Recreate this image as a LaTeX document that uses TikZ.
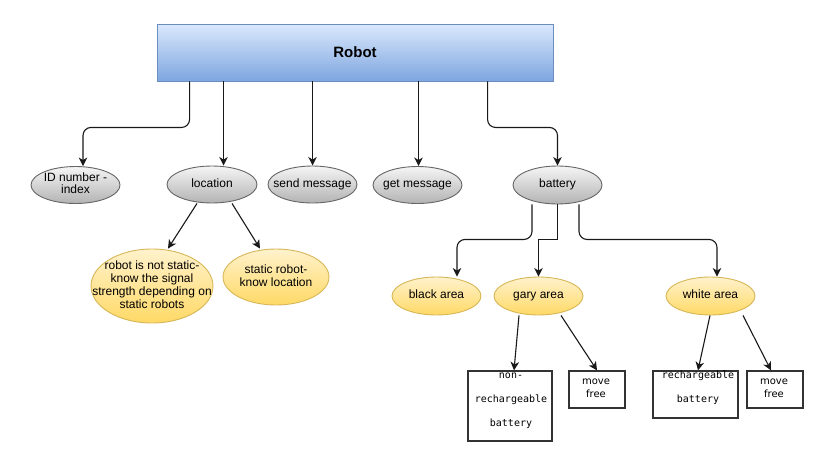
\documentclass[tikz,border=0pt]{standalone}
\usepackage{fontspec}
\setmainfont{Liberation Sans}
\newfontfamily\monof{DejaVu Sans Mono}
\newfontfamily\dvsf{DejaVu Sans}
\usetikzlibrary{arrows.meta,shapes.geometric,positioning}
\definecolor{blueTop}{HTML}{DAE8FC}
\definecolor{blueBot}{HTML}{7EA6E0}
\definecolor{blueLine}{HTML}{6C8EBF}
\definecolor{grayTop}{HTML}{F5F5F5}
\definecolor{grayBot}{HTML}{B3B3B3}
\definecolor{grayLine}{HTML}{666666}
\definecolor{yelTop}{HTML}{FFF2CC}
\definecolor{yelBot}{HTML}{FFD966}
\definecolor{yelLine}{HTML}{D6B656}
\definecolor{boxLine}{HTML}{333333}
\newcommand{\ctext}[1]{\makebox[0pt]{\begin{tabular}{@{}c@{}}#1\end{tabular}}}
\tikzset{
  rootbox/.style={rectangle, draw=blueLine, line width=0.9pt, top color=blueTop, bottom color=blueBot,
    minimum width=396pt, minimum height=57pt, inner sep=0pt, font=\fontsize{15}{18}\selectfont\bfseries},
  grayell/.style={ellipse, draw=grayLine, line width=0.9pt, top color=grayTop, bottom color=grayBot,
    minimum width=89pt, minimum height=37pt, inner sep=0pt,
    font=\fontsize{12}{12}\selectfont},
  yelell/.style={ellipse, draw=yelLine, line width=0.9pt, top color=yelTop, bottom color=yelBot,
    minimum width=89pt, minimum height=38pt, inner sep=0pt,
    font=\fontsize{12}{13}\selectfont},
  leafbox/.style={rectangle, draw=boxLine, line width=1.3pt, fill=white, inner sep=0pt},
  monotext/.style={align=center, inner sep=0pt, font=\monof\fontsize{10}{24}\selectfont},
  sanstext/.style={align=center, inner sep=0pt, font=\dvsf\fontsize{10}{13}\selectfont},
  arr/.style={draw=black!90, line width=1.1pt, -{Stealth[length=8.5pt,width=8.5pt,inset=2.5pt]}},
}
\begin{document}
\begin{tikzpicture}[x=1pt,y=-1pt]
\useasboundingbox (0,0) rectangle (830,464);
% root
\node[rootbox] (robot) at (355,52.5) {Robot};
% level 1
\node[grayell] (id) at (75.5,185) {\ctext{ID number -\\index}};
\node[grayell, minimum width=90pt] (loc) at (212,184.5) {\ctext{location}};
\node[grayell] (send) at (312.5,184.5) {\ctext{send message}};
\node[grayell] (get) at (417.5,185) {\ctext{get message}};
\node[grayell, minimum height=38pt] (bat) at (557.5,185) {\ctext{battery}};
% level 2 (location)
\node[yelell, minimum width=122pt, minimum height=74pt] (ns) at (152,286)
  {\ctext{robot is not static-\\know the signal\\strength depending on\\static robots}};
\node[yelell, minimum width=106pt, minimum height=56pt] (st) at (276,277)
  {\ctext{static robot-\\know location}};
% level 2 (battery)
\node[yelell] (black) at (436.5,296) {\ctext{black area}};
\node[yelell] (gary) at (538.5,296) {\ctext{gary area}};
\node[yelell] (white) at (710.5,296) {\ctext{white area}};
% leaves
\node[leafbox, minimum width=84pt, minimum height=70pt] (nr) at (510,406) {};
\node[monotext] (nrt) at (511,400.5) {non-\\rechargeable\\battery};
\node[leafbox, minimum width=56pt, minimum height=37pt] (mf1) at (597,389.5) {};
\node[sanstext] (mf1t) at (596,388.5) {move\\free};
\node[leafbox, minimum width=85pt, minimum height=47pt] (rb) at (695.5,394.5) {};
\node[monotext] (rbt) at (698,387.5) {rechargeable\\battery};
\node[leafbox, minimum width=56pt, minimum height=37pt] (mf2) at (775,389.5) {};
\node[sanstext] (mf2t) at (774,388.5) {move\\free};
% connectors from root
\draw[arr, rounded corners=8pt] ([xshift=33]robot.south west) -- ++(0,46) -| ([xshift=7.5]id.north);
\draw[arr] ([xshift=67]robot.south west) -- ([xshift=67]robot.south west |- loc.north);
\draw[arr] ([xshift=156]robot.south west) -- ([xshift=156]robot.south west |- send.north);
\draw[arr] ([xshift=262]robot.south west) -- ([xshift=262]robot.south west |- get.north);
\draw[arr, rounded corners=8pt] ([xshift=331]robot.south west) -- ++(0,46) -| (bat.north);
% location children
\draw[arr] ([xshift=-15]loc.south) -- ([xshift=16]ns.north);
\draw[arr] ([xshift=20]loc.south) -- ([xshift=-16]st.north);
% battery children
\draw[arr, rounded corners=8pt] ([xshift=-25.5]bat.south) -- ++(0,35) -| ([xshift=20.5]black.north);
\draw[arr] (bat.south) -- ++(0,35) -| (gary.north);
\draw[arr, rounded corners=8pt] ([xshift=21.5]bat.south) -- ++(0,35) -| ([xshift=6.5]white.north);
% area children
\draw[arr] ([xshift=-19.5]gary.south) -- ([xshift=4]nr.north);
\draw[arr] ([xshift=22.5]gary.south) -- (mf1.north);
\draw[arr] ([xshift=-0.5]white.south) -- ([xshift=2.5]rb.north);
\draw[arr] ([xshift=32.5]white.south) -- ([xshift=-4]mf2.north);
\end{tikzpicture}
\end{document}
